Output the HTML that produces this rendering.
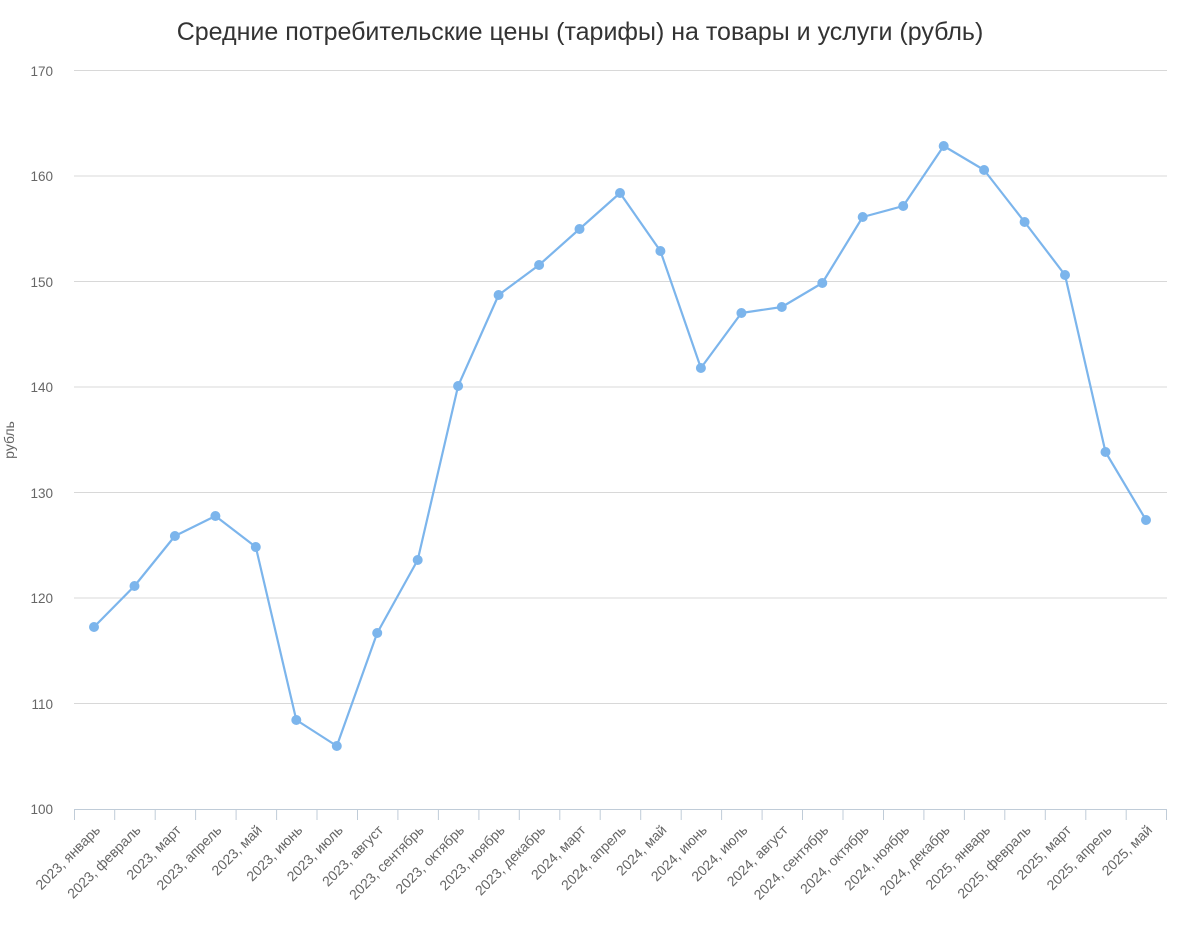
<!DOCTYPE html>
<html><head><meta charset="utf-8"><style>
html,body{margin:0;padding:0;background:#fff}
svg{display:block;font-family:"Liberation Sans",sans-serif}
.xl{font-size:14px;fill:#666;text-anchor:end}
.yl{font-size:13.5px;fill:#666;text-anchor:end}
</style></head><body>
<svg width="1200" height="927" viewBox="0 0 1200 927">
<text x="580" y="40" text-anchor="middle" font-size="25" fill="#333">Средние потребительские цены (тарифы) на товары и услуги (рубль)</text>
<g stroke="#d8d8d8" stroke-width="1">
<line x1="74" x2="1167" y1="70.5" y2="70.5"/>
<line x1="74" x2="1167" y1="176" y2="176"/>
<line x1="74" x2="1167" y1="281.5" y2="281.5"/>
<line x1="74" x2="1167" y1="387" y2="387"/>
<line x1="74" x2="1167" y1="492.5" y2="492.5"/>
<line x1="74" x2="1167" y1="598" y2="598"/>
<line x1="74" x2="1167" y1="703.5" y2="703.5"/>
</g>
<g stroke="#c0ccd8" stroke-width="1">
<line x1="74" x2="1167" y1="809.5" y2="809.5"/>
<path d="M74.5 809v11M114.7 809v11M155.2 809v11M195.6 809v11M236.1 809v11M276.6 809v11M317 809v11M357.5 809v11M397.9 809v11M438.4 809v11M478.9 809v11M519.3 809v11M559.8 809v11M600.2 809v11M640.7 809v11M681.2 809v11M721.6 809v11M762.1 809v11M802.5 809v11M843 809v11M883.5 809v11M923.9 809v11M964.4 809v11M1004.8 809v11M1045.3 809v11M1085.8 809v11M1126.2 809v11M1166.5 809v11"/>
</g>
<g class="yl">
<text x="53" y="76">170</text><text x="53" y="181">160</text><text x="53" y="287">150</text><text x="53" y="392">140</text><text x="53" y="498">130</text><text x="53" y="603">120</text><text x="53" y="709">110</text><text x="53" y="814">100</text>
</g>
<text transform="translate(14,440) rotate(-90)" text-anchor="middle" font-size="14" fill="#666">рубль</text>
<polyline fill="none" stroke="#7cb5ec" stroke-width="2.2" stroke-linejoin="round" points="94,627 134.5,586 174.9,536 215.4,516 255.8,547 296.3,720 336.8,746 377.2,633 417.7,560 458.1,386 498.6,295 539.1,265 579.5,229 620,193 660.4,251 700.9,368 741.4,313 781.8,307 822.3,283 862.7,217 903.2,206 943.7,146 984.1,170 1024.6,222 1065,275 1105.5,452 1146,520"/>
<g fill="#7cb5ec">
<circle cx="94" cy="627" r="5"/><circle cx="134.5" cy="586" r="5"/><circle cx="174.9" cy="536" r="5"/><circle cx="215.4" cy="516" r="5"/><circle cx="255.8" cy="547" r="5"/><circle cx="296.3" cy="720" r="5"/><circle cx="336.8" cy="746" r="5"/><circle cx="377.2" cy="633" r="5"/><circle cx="417.7" cy="560" r="5"/><circle cx="458.1" cy="386" r="5"/><circle cx="498.6" cy="295" r="5"/><circle cx="539.1" cy="265" r="5"/><circle cx="579.5" cy="229" r="5"/><circle cx="620" cy="193" r="5"/><circle cx="660.4" cy="251" r="5"/><circle cx="700.9" cy="368" r="5"/><circle cx="741.4" cy="313" r="5"/><circle cx="781.8" cy="307" r="5"/><circle cx="822.3" cy="283" r="5"/><circle cx="862.7" cy="217" r="5"/><circle cx="903.2" cy="206" r="5"/><circle cx="943.7" cy="146" r="5"/><circle cx="984.1" cy="170" r="5"/><circle cx="1024.6" cy="222" r="5"/><circle cx="1065" cy="275" r="5"/><circle cx="1105.5" cy="452" r="5"/><circle cx="1146" cy="520" r="5"/>
</g>
<g class="xl">
<text transform="translate(101,831) rotate(-45)">2023, январь</text>
<text transform="translate(141.5,831) rotate(-45)">2023, февраль</text>
<text transform="translate(181.9,831) rotate(-45)">2023, март</text>
<text transform="translate(222.4,831) rotate(-45)">2023, апрель</text>
<text transform="translate(262.8,831) rotate(-45)">2023, май</text>
<text transform="translate(303.3,831) rotate(-45)">2023, июнь</text>
<text transform="translate(343.8,831) rotate(-45)">2023, июль</text>
<text transform="translate(384.2,831) rotate(-45)">2023, август</text>
<text transform="translate(424.7,831) rotate(-45)">2023, сентябрь</text>
<text transform="translate(465.1,831) rotate(-45)">2023, октябрь</text>
<text transform="translate(505.6,831) rotate(-45)">2023, ноябрь</text>
<text transform="translate(546.1,831) rotate(-45)">2023, декабрь</text>
<text transform="translate(586.5,831) rotate(-45)">2024, март</text>
<text transform="translate(627,831) rotate(-45)">2024, апрель</text>
<text transform="translate(667.4,831) rotate(-45)">2024, май</text>
<text transform="translate(707.9,831) rotate(-45)">2024, июнь</text>
<text transform="translate(748.4,831) rotate(-45)">2024, июль</text>
<text transform="translate(788.8,831) rotate(-45)">2024, август</text>
<text transform="translate(829.3,831) rotate(-45)">2024, сентябрь</text>
<text transform="translate(869.7,831) rotate(-45)">2024, октябрь</text>
<text transform="translate(910.2,831) rotate(-45)">2024, ноябрь</text>
<text transform="translate(950.7,831) rotate(-45)">2024, декабрь</text>
<text transform="translate(991.1,831) rotate(-45)">2025, январь</text>
<text transform="translate(1031.6,831) rotate(-45)">2025, февраль</text>
<text transform="translate(1072,831) rotate(-45)">2025, март</text>
<text transform="translate(1112.5,831) rotate(-45)">2025, апрель</text>
<text transform="translate(1153,831) rotate(-45)">2025, май</text>
</g>
</svg>
</body></html>
